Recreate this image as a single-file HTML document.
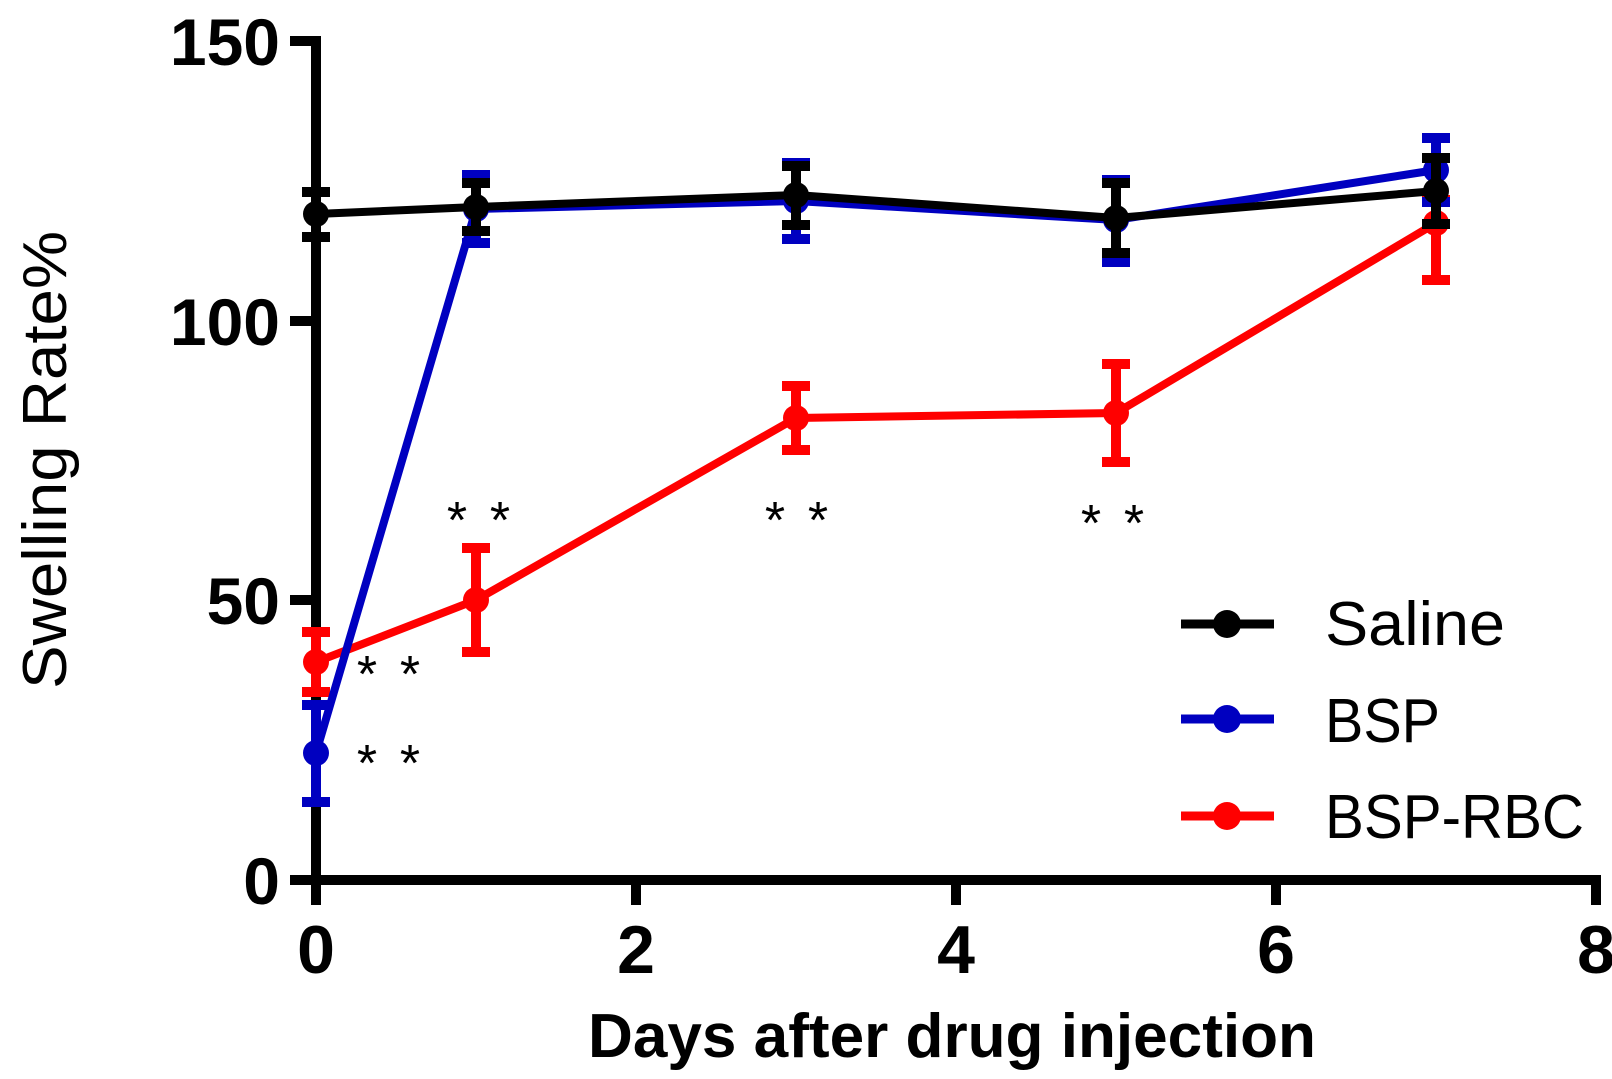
<!DOCTYPE html>
<html><head><meta charset="utf-8"><style>html,body{margin:0;padding:0;background:#fff}svg{display:block}</style></head>
<body>
<svg width="1612" height="1079" viewBox="0 0 1612 1079" xmlns="http://www.w3.org/2000/svg" font-family="Liberation Sans, Arial, sans-serif">
<rect width="1612" height="1079" fill="#fff"/>
<!-- axes -->
<g stroke="#000" stroke-width="10" fill="none">
<line x1="316" y1="36" x2="316" y2="885"/>
<line x1="311" y1="880" x2="1601" y2="880"/>
<line x1="290" y1="41" x2="316" y2="41"/>
<line x1="290" y1="321" x2="316" y2="321"/>
<line x1="290" y1="600" x2="316" y2="600"/>
<line x1="290" y1="880" x2="316" y2="880"/>
<line x1="316" y1="880" x2="316" y2="905"/>
<line x1="636" y1="880" x2="636" y2="905"/>
<line x1="956" y1="880" x2="956" y2="905"/>
<line x1="1276" y1="880" x2="1276" y2="905"/>
<line x1="1596" y1="880" x2="1596" y2="905"/>
</g>
<g font-weight="bold" font-size="66" text-anchor="end">
<text x="280" y="65">150</text>
<text x="280" y="345">100</text>
<text x="280" y="624">50</text>
<text x="280" y="904">0</text>
</g>
<g font-weight="bold" font-size="68" text-anchor="middle">
<text x="316" y="973">0</text>
<text x="636" y="973">2</text>
<text x="956" y="973">4</text>
<text x="1276" y="973">6</text>
<text x="1596" y="973">8</text>
</g>
<text x="952" y="1057" font-size="62" font-weight="bold" text-anchor="middle" textLength="728" lengthAdjust="spacingAndGlyphs">Days after drug injection</text>
<text transform="translate(66,460) rotate(-90)" font-size="62" text-anchor="middle" textLength="458" lengthAdjust="spacingAndGlyphs">Swelling Rate%</text>

<!-- BSP-RBC -->
<g stroke="#ff0000" fill="#ff0000">
<polyline fill="none" stroke-width="8" points="316,662 476,600 796,418 1116,413 1436,223"/>
<g stroke-width="10">
<line x1="316" y1="632" x2="316" y2="692"/><line x1="302" y1="632" x2="330" y2="632"/><line x1="302" y1="692" x2="330" y2="692"/>
<line x1="476" y1="548" x2="476" y2="652"/><line x1="462" y1="548" x2="490" y2="548"/><line x1="462" y1="652" x2="490" y2="652"/>
<line x1="796" y1="386" x2="796" y2="450"/><line x1="782" y1="386" x2="810" y2="386"/><line x1="782" y1="450" x2="810" y2="450"/>
<line x1="1116" y1="364" x2="1116" y2="462"/><line x1="1102" y1="364" x2="1130" y2="364"/><line x1="1102" y1="462" x2="1130" y2="462"/>
<line x1="1436" y1="200" x2="1436" y2="280"/><line x1="1422" y1="200" x2="1450" y2="200"/><line x1="1422" y1="280" x2="1450" y2="280"/>
</g>
<g stroke="none"><circle cx="316" cy="662" r="13"/><circle cx="476" cy="600" r="13"/><circle cx="796" cy="418" r="13"/><circle cx="1116" cy="413" r="13"/><circle cx="1436" cy="223" r="13"/></g>
</g>
<!-- BSP -->
<g stroke="#0000c0" fill="#0000c0">
<polyline fill="none" stroke-width="8" points="316,753 476,209 796,201 1116,220 1436,170"/>
<g stroke-width="10">
<line x1="316" y1="705" x2="316" y2="802"/><line x1="302" y1="705" x2="330" y2="705"/><line x1="302" y1="802" x2="330" y2="802"/>
<line x1="476" y1="175" x2="476" y2="243"/><line x1="462" y1="175" x2="490" y2="175"/><line x1="462" y1="243" x2="490" y2="243"/>
<line x1="796" y1="163" x2="796" y2="239"/><line x1="782" y1="163" x2="810" y2="163"/><line x1="782" y1="239" x2="810" y2="239"/>
<line x1="1116" y1="180" x2="1116" y2="262"/><line x1="1102" y1="180" x2="1130" y2="180"/><line x1="1102" y1="262" x2="1130" y2="262"/>
<line x1="1436" y1="138" x2="1436" y2="202"/><line x1="1422" y1="138" x2="1450" y2="138"/><line x1="1422" y1="202" x2="1450" y2="202"/>
</g>
<g stroke="none"><circle cx="316" cy="753" r="13"/><circle cx="476" cy="209" r="13"/><circle cx="796" cy="201" r="13"/><circle cx="1116" cy="220" r="13"/><circle cx="1436" cy="170" r="13"/></g>
</g>
<!-- Saline -->
<g stroke="#000" fill="#000">
<polyline fill="none" stroke-width="8" points="316,214 476,207 796,195 1116,218 1436,191"/>
<g stroke-width="10">
<line x1="316" y1="192" x2="316" y2="237"/><line x1="302" y1="192" x2="330" y2="192"/><line x1="302" y1="237" x2="330" y2="237"/>
<line x1="476" y1="183" x2="476" y2="231"/><line x1="462" y1="183" x2="490" y2="183"/><line x1="462" y1="231" x2="490" y2="231"/>
<line x1="796" y1="166" x2="796" y2="225"/><line x1="782" y1="166" x2="810" y2="166"/><line x1="782" y1="225" x2="810" y2="225"/>
<line x1="1116" y1="183" x2="1116" y2="253"/><line x1="1102" y1="183" x2="1130" y2="183"/><line x1="1102" y1="253" x2="1130" y2="253"/>
<line x1="1436" y1="158" x2="1436" y2="224"/><line x1="1422" y1="158" x2="1450" y2="158"/><line x1="1422" y1="224" x2="1450" y2="224"/>
</g>
<g stroke="none"><circle cx="316" cy="214" r="13"/><circle cx="476" cy="207" r="13"/><circle cx="796" cy="195" r="13"/><circle cx="1116" cy="218" r="13"/><circle cx="1436" cy="191" r="13"/></g>
</g>
<!-- stars -->
<g font-size="52" text-anchor="middle" fill="#000">
<text x="367" y="692">*</text><text x="410" y="692">*</text>
<text x="367" y="781">*</text><text x="410" y="781">*</text>
<text x="457" y="538">*</text><text x="500" y="538">*</text>
<text x="775" y="538">*</text><text x="818" y="538">*</text>
<text x="1091" y="541">*</text><text x="1134" y="541">*</text>
</g>
<!-- legend -->
<g stroke-width="9">
<line x1="1181" y1="624" x2="1274" y2="624" stroke="#000"/>
<line x1="1181" y1="719" x2="1274" y2="719" stroke="#0000c0"/>
<line x1="1181" y1="816" x2="1274" y2="816" stroke="#ff0000"/>
</g>
<circle cx="1227" cy="624" r="14" fill="#000"/>
<circle cx="1227" cy="719" r="14" fill="#0000c0"/>
<circle cx="1227" cy="816" r="14" fill="#ff0000"/>
<g font-size="62">
<text x="1325" y="645" textLength="180" lengthAdjust="spacingAndGlyphs">Saline</text>
<text x="1325" y="742" textLength="115" lengthAdjust="spacingAndGlyphs">BSP</text>
<text x="1325" y="838" textLength="259" lengthAdjust="spacingAndGlyphs">BSP-RBC</text>
</g>
</svg>
</body></html>
